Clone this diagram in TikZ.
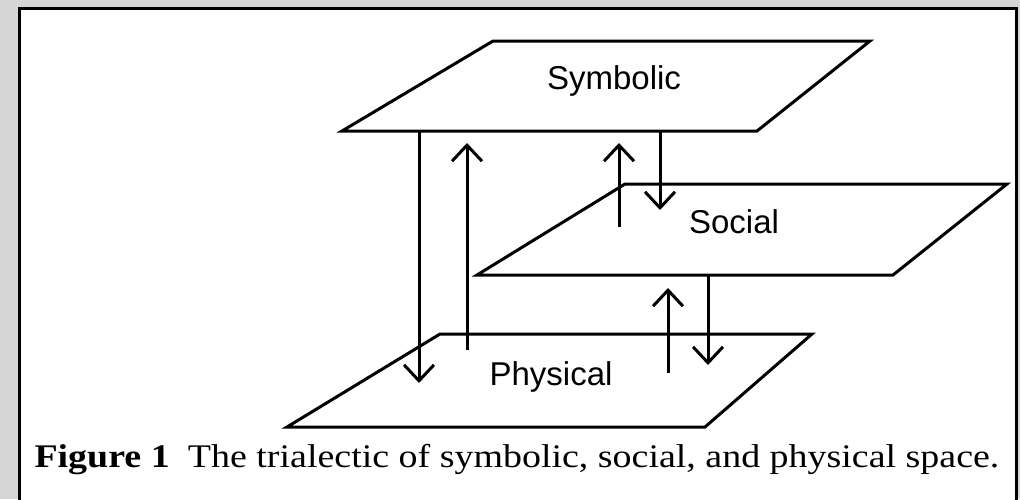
\documentclass[tikz,border=0pt]{standalone}
\usepackage{fontspec}
\setmainfont{Liberation Serif}
\setsansfont{Liberation Sans}
\newfontfamily\capfont[FakeStretch=1.15]{Liberation Serif}
\usetikzlibrary{arrows.meta}

\begin{document}
\begin{tikzpicture}[x=1pt,y=-1pt,line width=3pt,
  link/.style={-{Straight Barb[length=16pt,width=30pt,line width=3pt]}},
  lab/.style={font=\sffamily\fontsize{33}{38}\selectfont,inner sep=0pt}]
  \useasboundingbox (0,0) rectangle (1020,499);
  \clip (0,0) rectangle (1020,499);
  \fill[black!16] (0,0) rectangle (1020,499);
  \draw[fill=white] (19.5,8.5) rectangle (1016.5,520);

  \coordinate (S1) at (493,41);
  \coordinate (S2) at (870,41);
  \coordinate (S3) at (757,131);
  \coordinate (S4) at (342,131);
  \draw (S1) -- (S2) -- (S3) -- (S4) -- cycle;
  \coordinate (C1) at (625,184);
  \coordinate (C2) at (1007,184);
  \coordinate (C3) at (893,275);
  \coordinate (C4) at (477,275);
  \draw (C1) -- (C2) -- (C3) -- (C4) -- cycle;
  \coordinate (P1) at (440,334);
  \coordinate (P2) at (812,334);
  \coordinate (P3) at (705,427);
  \coordinate (P4) at (287,427);
  \draw (P1) -- (P2) -- (P3) -- (P4) -- cycle;

  \node[lab] (sym) at (614,81) {Symbolic};
  \node[lab] (soc) at (734,222) {Social};
  \node[lab] (phy) at (551,377) {Physical};

  \coordinate (a1) at (419,131);
  \coordinate (b1) at (419,383);
  \coordinate (a2) at (467,350);
  \coordinate (b2) at (467,143);
  \coordinate (a3) at (619,227);
  \coordinate (b3) at (619,143);
  \coordinate (a4) at (660,131);
  \coordinate (b4) at (660,210);
  \coordinate (a5) at (668,373);
  \coordinate (b5) at (668,288);
  \coordinate (a6) at (708,275);
  \coordinate (b6) at (708,365);
  \draw[link] (a1) -- (b1);
  \draw[link] (a2) -- (b2);
  \draw[link] (a3) -- (b3);
  \draw[link] (a4) -- (b4);
  \draw[link] (a5) -- (b5);
  \draw[link] (a6) -- (b6);

  \node[anchor=base west,inner sep=0pt,font=\capfont\fontsize{33}{38}\selectfont] (cap) at (33,467)
    {\textbf{Figure 1}\hspace{0.55em}The trialectic of symbolic, social, and physical space.};
\end{tikzpicture}
\end{document}
